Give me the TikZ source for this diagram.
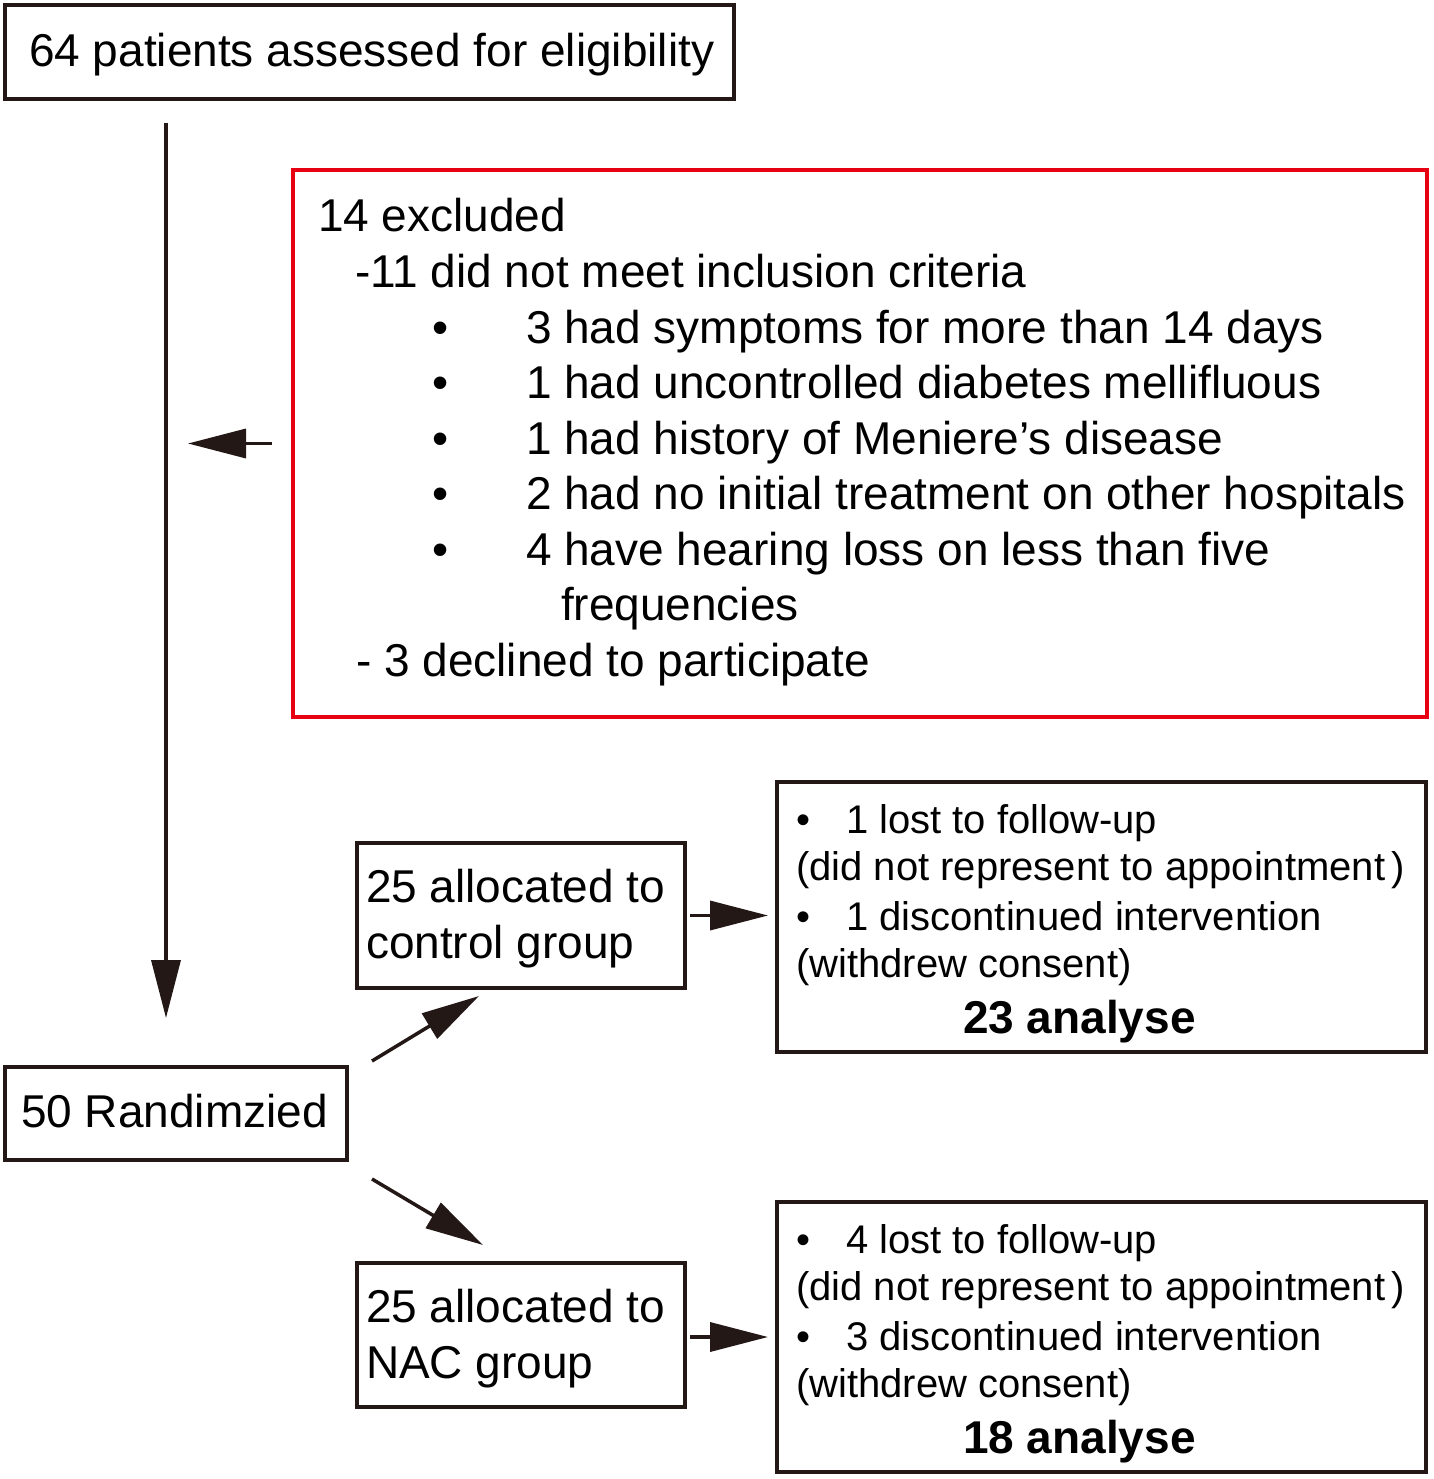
\documentclass[tikz,border=0pt]{standalone}
\usepackage{fontspec}
\setmainfont{Liberation Sans}
\usetikzlibrary{arrows.meta,calc}
\definecolor{ink}{HTML}{231815}
\definecolor{redline}{HTML}{E60012}
\begin{document}
\begin{tikzpicture}[x=1pt,y=-1pt,
  boxnode/.style={draw=ink, line width=4pt, rectangle, inner sep=0pt, outer sep=0pt, anchor=north west},
  txt/.style={anchor=base west, inner sep=0pt, outer sep=0pt, font=\fontsize{46}{55}\selectfont},
  stxt/.style={anchor=base west, inner sep=0pt, outer sep=0pt, font=\fontsize{40}{48}\selectfont},
  btxt/.style={anchor=base west, inner sep=0pt, outer sep=0pt, font=\fontsize{46}{55}\selectfont\bfseries},
  bul/.style={anchor=base, inner sep=0pt, outer sep=0pt, font=\fontsize{46}{55}\selectfont},
  sbul/.style={anchor=base, inner sep=0pt, outer sep=0pt, font=\fontsize{40}{48}\selectfont},
  arr/.style={draw=ink, line width=3.5pt, -{Triangle[length=58pt,width=29pt]}}]
\useasboundingbox (0,0) rectangle (1433,1479);
\fill[white] (0,0) rectangle (1433,1479);

% boxes
\node[boxnode, minimum width=729pt, minimum height=94pt] (elig) at (5,5) {};
\node[boxnode, draw=redline, minimum width=1134pt, minimum height=547pt] (excl) at (293,170) {};
\node[boxnode, minimum width=342pt, minimum height=93pt] (rand) at (5,1067) {};
\node[boxnode, minimum width=328pt, minimum height=145pt] (ctrl) at (357,843) {};
\node[boxnode, minimum width=328pt, minimum height=144pt] (nac) at (357,1263) {};
\node[boxnode, minimum width=649pt, minimum height=270pt] (out1) at (777,782) {};
\node[boxnode, minimum width=649pt, minimum height=270pt] (out2) at (777,1202) {};

% texts
\node[txt] (t-elig) at (29,67) {64 patients assessed for eligibility};

\node[txt] (t-ex0) at (318,232) {14 excluded};
\node[txt] (t-ex1) at (355,287.5) {-11 did not meet inclusion criteria};
\node[bul] (b-ex2) at (441,343) {•};
\node[txt] (t-ex2) at (526,343) {3 had symptoms for more than 14 days};
\node[bul] (b-ex3) at (441,398.5) {•};
\node[txt] (t-ex3) at (526,398.5) {1 had uncontrolled diabetes mellifluous};
\node[bul] (b-ex4) at (441,454) {•};
\node[txt] (t-ex4) at (526,454) {1 had history of Meniere's disease};
\node[bul] (b-ex5) at (441,509.5) {•};
\node[txt] (t-ex5) at (526,509.5) {2 had no initial treatment on other hospitals};
\node[bul] (b-ex6) at (441,565) {•};
\node[txt] (t-ex6) at (526,565) {4 have hearing loss on less than five};
\node[txt] (t-ex7) at (561,620.5) {frequencies};
\node[txt] (t-ex8) at (356,676) {- 3 declined to participate};

\node[txt] (t-rand) at (21,1127) {50 Randimzied};

\node[txt] (t-c1) at (366,902) {25 allocated to};
\node[txt] (t-c2) at (366,958) {control group};
\node[txt] (t-n1) at (366,1322) {25 allocated to};
\node[txt] (t-n2) at (366,1378) {NAC group};

\node[sbul] (b-o11) at (803,833) {•};
\node[stxt] (t-o11) at (846,833) {1 lost to follow-up};
\node[stxt] (t-o12) at (796,880) {(did not represent to appointment\hspace{6pt})};
\node[sbul] (b-o13) at (803,930) {•};
\node[stxt] (t-o13) at (846,930) {1 discontinued intervention};
\node[stxt] (t-o14) at (796,977) {(withdrew consent)};
\node[btxt] (t-o15) at (963,1033) {23 analyse};

\node[sbul] (b-o21) at (803,1253) {•};
\node[stxt] (t-o21) at (846,1253) {4 lost to follow-up};
\node[stxt] (t-o22) at (796,1300) {(did not represent to appointment\hspace{6pt})};
\node[sbul] (b-o23) at (803,1350) {•};
\node[stxt] (t-o23) at (846,1350) {3 discontinued intervention};
\node[stxt] (t-o24) at (796,1397) {(withdrew consent)};
\node[btxt] (t-o25) at (963,1453) {18 analyse};

% connectors
\coordinate (vx) at ($(elig.south west)+(161,0)$);
\draw[arr] ($(elig.south west)+(161,24)$) -- ($(rand.north west)+(161,-49)$);
\draw[arr] ($(excl.west)+(-21,0)$) -- ($(excl.west -| vx)+(22,0)$);
\draw[arr] ($(rand.north east)+(25,-6)$) -- ($(ctrl.south west)+(122,8)$);
\draw[arr] ($(rand.south east)+(25,19)$) -- ($(nac.north west)+(126,-18)$);
\draw[arr] ($(ctrl.east)+(5,0)$) -- ($(ctrl.east -| out1.west)+(-9,0)$);
\draw[arr] ($(nac.east)+(5,2)$) -- ($(nac.east -| out2.west)+(-9,2)$);
\end{tikzpicture}
\end{document}
